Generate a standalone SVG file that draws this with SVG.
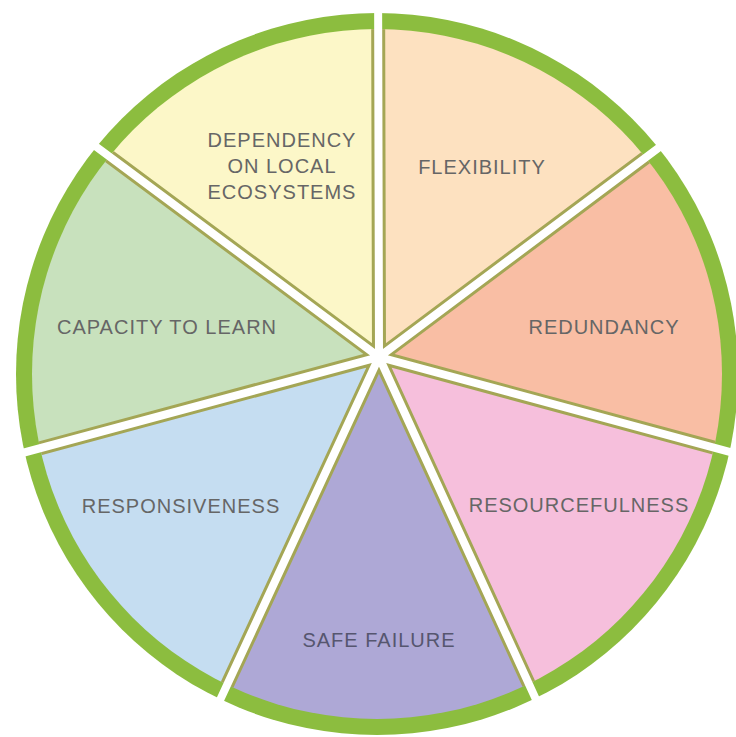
<svg xmlns="http://www.w3.org/2000/svg" width="736" height="737" viewBox="0 0 736 737">
<defs>
<clipPath id="outer"><circle cx="377" cy="374" r="361"/></clipPath>
<clipPath id="inner"><circle cx="377" cy="374" r="345"/></clipPath>
<style>
.band{fill:#8cbd3f;clip-path:url(#outer)}
.seg{clip-path:url(#inner)}
.lbl{font-family:"Liberation Sans",Arial,sans-serif;font-size:20px;letter-spacing:1px;fill:#666666;text-anchor:middle}
.olive{stroke:#a4a655;stroke-width:14;fill:none;clip-path:url(#inner)}
.gap{stroke:#ffffff;stroke-width:8;fill:none}
</style>
</defs>
<rect width="736" height="737" fill="#ffffff"/>
<g id="flexibility">
<polygon class="band" points="379,357 378,-46 706.37,112.13"/>
<polygon class="seg" fill="#fde1c0" points="379,357 378,-46 706.37,112.13"/>
<text class="lbl" x="482" y="174">FLEXIBILITY</text>
</g>
<g id="redundancy">
<polygon class="band" points="379,357 706.37,112.13 787.47,467.46"/>
<polygon class="seg" fill="#f9bea4" points="379,357 706.37,112.13 787.47,467.46"/>
<text class="lbl" x="604" y="334">REDUNDANCY</text>
</g>
<g id="resourcefulness">
<polygon class="band" points="379,357 787.47,467.46 560.23,752.41"/>
<polygon class="seg" fill="#f6bfdc" points="379,357 787.47,467.46 560.23,752.41"/>
<text class="lbl" x="579" y="512">RESOURCEFULNESS</text>
</g>
<g id="safe-failure">
<polygon class="band" points="379,357 560.23,752.41 195.77,752.41"/>
<polygon class="seg" fill="#aea8d6" points="379,357 560.23,752.41 195.77,752.41"/>
<text class="lbl" x="379" y="647" fill="#555570" style="fill:#56566f">SAFE FAILURE</text>
</g>
<g id="responsiveness">
<polygon class="band" points="379,357 195.77,752.41 -31.47,467.46"/>
<polygon class="seg" fill="#c5ddf1" points="379,357 195.77,752.41 -31.47,467.46"/>
<text class="lbl" x="181" y="513">RESPONSIVENESS</text>
</g>
<g id="capacity-to-learn">
<polygon class="band" points="379,357 -31.47,467.46 49.63,112.13"/>
<polygon class="seg" fill="#c8e1bd" points="379,357 -31.47,467.46 49.63,112.13"/>
<text class="lbl" x="167" y="334">CAPACITY TO LEARN</text>
</g>
<g id="dependency-on-local-ecosystems">
<polygon class="band" points="379,357 49.63,112.13 378,-46"/>
<polygon class="seg" fill="#fcf7c8" points="379,357 49.63,112.13 378,-46"/>
<text class="lbl" x="282" y="147">DEPENDENCY</text>
<text class="lbl" x="282" y="173">ON LOCAL</text>
<text class="lbl" x="282" y="199">ECOSYSTEMS</text>
</g>
<g id="connectors">
<path class="olive" d="M379,357 L378,-46 M379,357 L706.37,112.13 M379,357 L787.47,467.46 M379,357 L560.23,752.41 M379,357 L195.77,752.41 M379,357 L-31.47,467.46 M379,357 L49.63,112.13"/>
<path class="gap" d="M379,357 L378,-46 M379,357 L706.37,112.13 M379,357 L787.47,467.46 M379,357 L560.23,752.41 M379,357 L195.77,752.41 M379,357 L-31.47,467.46 M379,357 L49.63,112.13"/>
</g>
</svg>
